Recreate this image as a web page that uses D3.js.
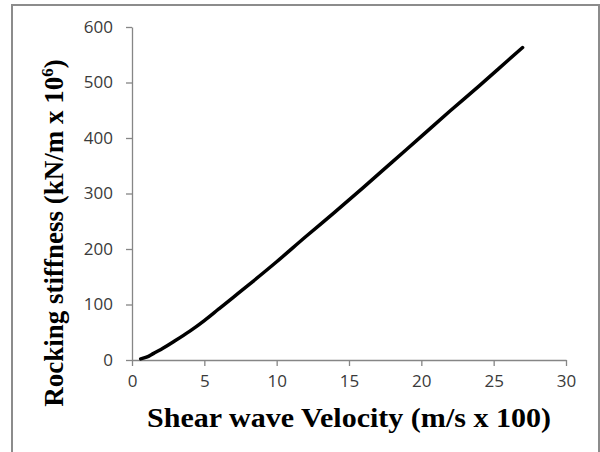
<!DOCTYPE html>
<html>
<head>
<meta charset="utf-8">
<script src="https://cdn.jsdelivr.net/npm/d3@7"></script>
<style>
html,body{margin:0;padding:0;background:#fff;}
svg{display:block;}
</style>
</head>
<body>
<svg id="chart" width="600" height="452"></svg>
<script>
const velocity = [0.6, 1, 1.5, 2, 3, 4, 5, 6, 7, 8, 10, 12, 14, 16, 18, 20, 22, 24, 26, 27];
const stiffness = [2, 5, 12, 19, 35, 52, 71, 92, 113, 134, 177, 222, 266, 311, 357, 403, 449, 494, 540, 563];
const xTicks = [0, 5, 10, 15, 20, 25, 30];
const yTicks = [0, 100, 200, 300, 400, 500, 600];
const xTitle = "Shear wave Velocity (m/s x 100)";
const yTitleMain = "Rocking stiffness (kN/m x 10";
const yTitleSup = "6";
const yTitleEnd = ")";

const svg = d3.select("#chart");
const W = 600, H = 452;
const m = {left: 132, right: 34, top: 27, bottom: 92};

// outer frame
svg.append("rect")
  .attr("x", 12).attr("y", 5)
  .attr("width", 587).attr("height", 470)
  .attr("fill", "none").attr("stroke", "#8c8c8c").attr("stroke-width", 2);

const x = d3.scaleLinear().domain([0, 30]).range([m.left, W - m.right]);
const y = d3.scaleLinear().domain([0, 600]).range([H - m.bottom, m.top]);

const axisColor = "#868686";
const tickFont = "'Open Sans', 'Liberation Sans', sans-serif";

const gx = svg.append("g").attr("transform", `translate(0,${y(0)})`)
  .call(d3.axisBottom(x).tickValues(xTicks).tickSize(6).tickPadding(9).tickSizeOuter(0));
const gy = svg.append("g").attr("transform", `translate(${x(0)},0)`)
  .call(d3.axisLeft(y).tickValues(yTicks).tickSize(6).tickPadding(13).tickSizeOuter(0));

[gx, gy].forEach(g => {
  g.attr("font-size", 17).attr("font-family", tickFont);
  g.select(".domain").attr("stroke", axisColor).attr("stroke-width", 1.3);
  g.selectAll(".tick line").attr("stroke", axisColor).attr("stroke-width", 1.3);
  g.selectAll(".tick text").attr("fill", "#3a3a3a");
});

const data = velocity.map((v, i) => ({v, k: stiffness[i]}));
const line = d3.line().x(d => x(d.v)).y(d => y(d.k)).curve(d3.curveMonotoneX);
svg.append("path").datum(data)
  .attr("d", line)
  .attr("fill", "none").attr("stroke", "#000").attr("stroke-width", 3.5)
  .attr("stroke-linecap", "round").attr("stroke-linejoin", "round");

const titleFont = "'Liberation Serif', 'Times New Roman', serif";
svg.append("text")
  .attr("x", 147).attr("y", 427)
  .attr("font-family", titleFont).attr("font-weight", "bold").attr("font-size", 27)
  .attr("textLength", 404).attr("lengthAdjust", "spacingAndGlyphs")
  .attr("fill", "#000")
  .text(xTitle);

const yt = svg.append("text")
  .attr("transform", `translate(63,233) rotate(-90)`)
  .attr("text-anchor", "middle")
  .attr("font-family", titleFont).attr("font-weight", "bold").attr("font-size", 27)
  .attr("fill", "#000");
yt.append("tspan").text(yTitleMain);
yt.append("tspan").attr("dy", -10).attr("font-size", 17).text(yTitleSup);
yt.append("tspan").attr("dy", 10).text(yTitleEnd);
</script>
</body>
</html>
